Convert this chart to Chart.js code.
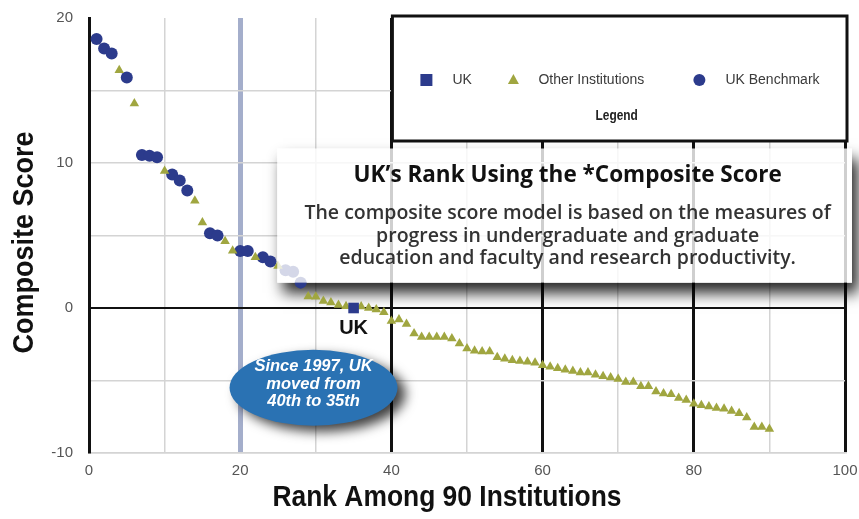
<!DOCTYPE html>
<html>
<head>
<meta charset="utf-8">
<script src="https://cdn.jsdelivr.net/npm/chart.js@4.4.0/dist/chart.umd.min.js"></script>
<style>
  html, body { margin: 0; padding: 0; background: #fff; }
</style>
</head>
<body>
<canvas id="rank-chart" width="859" height="519"></canvas>
<script>
// values
const ukRanks = [35];
const ukScores = [0.0];

const benchmarkRanks = [1, 2, 3, 5, 7, 8, 9, 11, 12, 13, 16, 17, 20, 21, 23, 24, 26, 27, 28];
const benchmarkScores = [18.55, 17.9, 17.55, 15.9, 10.55, 10.5, 10.4, 9.2, 8.8, 8.1, 5.15, 5.0, 3.93, 3.93, 3.5, 3.2, 2.6, 2.5, 1.75];

const otherRanks = [4, 6, 10, 14, 15, 18, 19, 22, 25, 29, 30, 31, 32, 33, 34,
  36, 37, 38, 39, 40, 41, 42, 43, 44, 45, 46, 47, 48, 49, 50, 51, 52, 53, 54, 55,
  56, 57, 58, 59, 60, 61, 62, 63, 64, 65, 66, 67, 68, 69, 70, 71, 72, 73, 74, 75,
  76, 77, 78, 79, 80, 81, 82, 83, 84, 85, 86, 87, 88, 89, 90];
const otherScores = [16.4, 14.1, 9.45, 7.4, 5.9, 4.6, 3.95, 3.5, 2.9, 0.8, 0.78, 0.48, 0.38, 0.2, 0.12,
  0.1, 0.0, -0.1, -0.3, -0.9, -0.8, -1.1, -1.75, -2.0, -2.0, -2.0, -2.0, -2.1, -2.45, -2.8, -2.95, -3.0, -3.0, -3.4, -3.5,
  -3.6, -3.65, -3.7, -3.77, -3.95, -4.05, -4.15, -4.25, -4.35, -4.45, -4.45, -4.6, -4.7, -4.8, -4.9, -5.1, -5.1, -5.4, -5.4, -5.75,
  -5.9, -5.95, -6.2, -6.35, -6.6, -6.7, -6.8, -6.9, -6.95, -7.1, -7.25, -7.55, -8.2, -8.2, -8.35];

const xTickLabels = [0, 20, 40, 60, 80, 100];
const yTickLabels = [-10, 0, 10, 20];

const xTitle = 'Rank Among 90 Institutions';
const yTitle = 'Composite Score';
const calloutTitle = 'UK\u2019s Rank Using the *Composite Score';
const calloutLines = [
  'The composite score model is based on the measures of',
  'progress in undergraduate and graduate',
  'education and faculty and research productivity.'
];
const bubbleLines = ['Since 1997, UK', 'moved from', '40th to 35th'];

const NAVY = '#2c3b8c';
const OLIVE = '#a0a640';
const BUBBLE = '#2a72b3';
const NARROW_BOLD = 'bold 30px "Liberation Sans", sans-serif';

function toPoints(ranks, scores) {
  return ranks.map((r, i) => ({ x: r, y: scores[i] }));
}

function calloutRect(chart) {
  const xs = chart.scales.x, ys = chart.scales.y;
  const left = xs.getPixelForValue(24.9);
  const top = ys.getPixelForValue(11);
  const bottom = ys.getPixelForValue(1.75);
  return { x: left, y: top, w: chart.width - 7 - left, h: bottom - top };
}

function marker(ctx, style, x, y, color) {
  ctx.fillStyle = color;
  ctx.beginPath();
  if (style === 'rect') {
    ctx.rect(x - 6, y - 6, 12, 12);
  } else if (style === 'triangle') {
    ctx.moveTo(x, y - 6);
    ctx.lineTo(x + 5.5, y + 4);
    ctx.lineTo(x - 5.5, y + 4);
    ctx.closePath();
  } else {
    ctx.arc(x, y, 6, 0, Math.PI * 2);
  }
  ctx.fill();
}

// condensed text: squeeze the glyphs along the baseline
function narrowText(ctx, text, x, y, squeeze, rotate) {
  ctx.save();
  ctx.translate(x, y);
  if (rotate) ctx.rotate(-Math.PI / 2);
  ctx.scale(squeeze, 1);
  ctx.fillText(text, 0, 0);
  ctx.restore();
}

const overlayPlugin = {
  id: 'overlay',
  beforeDatasetsDraw(chart) {
    // drop shadow of the callout panel, kept outside the panel itself
    const ctx = chart.ctx;
    const box = calloutRect(chart);
    ctx.save();
    ctx.beginPath();
    ctx.rect(0, 0, chart.width, chart.height);
    ctx.rect(box.x, box.y, box.w, box.h);
    ctx.clip('evenodd');
    ctx.shadowColor = 'rgba(0,0,0,0.85)';
    ctx.shadowBlur = 14;
    ctx.shadowOffsetX = 3000 + 6;
    ctx.shadowOffsetY = 10;
    ctx.fillStyle = '#000';
    ctx.fillRect(box.x - 3000, box.y, box.w, box.h);
    ctx.restore();
  },
  afterDatasetsDraw(chart) {
    const ctx = chart.ctx;
    const xs = chart.scales.x, ys = chart.scales.y;
    const area = chart.chartArea;

    // callout panel
    const box = calloutRect(chart);
    ctx.save();
    ctx.fillStyle = 'rgba(255,255,255,0.8)';
    ctx.fillRect(box.x, box.y, box.w, box.h);
    const cx = box.x + box.w / 2;
    ctx.textAlign = 'center';
    ctx.textBaseline = 'middle';
    ctx.fillStyle = '#111';
    ctx.font = 'bold 22.5px "Open Sans", sans-serif';
    ctx.fillText(calloutTitle, cx + 3, box.y + 27);
    ctx.fillStyle = '#333';
    ctx.font = '600 19.5px "Open Sans", sans-serif';
    calloutLines.forEach((t, i) => ctx.fillText(t, cx + 3, box.y + 65 + i * 22.5));
    ctx.restore();

    // label under the UK point
    ctx.save();
    ctx.fillStyle = '#111';
    ctx.font = 'bold 20px "Liberation Sans", sans-serif';
    ctx.textAlign = 'center';
    ctx.textBaseline = 'middle';
    ctx.fillText('UK', xs.getPixelForValue(ukRanks[0]), ys.getPixelForValue(ukScores[0]) + 20);
    ctx.restore();

    // blue bubble
    const bx = xs.getPixelForValue(29.7), by = ys.getPixelForValue(-5.5);
    ctx.save();
    ctx.shadowColor = 'rgba(0,0,0,0.75)';
    ctx.shadowBlur = 12;
    ctx.shadowOffsetX = 8;
    ctx.shadowOffsetY = 6;
    ctx.fillStyle = BUBBLE;
    ctx.beginPath();
    ctx.ellipse(bx, by, 84, 38, 0, 0, Math.PI * 2);
    ctx.fill();
    ctx.restore();
    ctx.save();
    ctx.fillStyle = '#fff';
    ctx.font = 'italic bold 16.5px "Liberation Sans", sans-serif';
    ctx.textAlign = 'center';
    ctx.textBaseline = 'middle';
    bubbleLines.forEach((t, i) => ctx.fillText(t, bx, by - 21 + i * 17.5));
    ctx.restore();

    // legend panel
    const lx = xs.getPixelForValue(40) + 1, rx = xs.getPixelForValue(100) + 2;
    const ty = area.top - 2, byy = area.top + 123;
    ctx.save();
    ctx.fillStyle = '#fff';
    ctx.fillRect(lx, ty, rx - lx, byy - ty);
    ctx.strokeStyle = '#111';
    ctx.lineWidth = 3;
    ctx.strokeRect(lx, ty, rx - lx, byy - ty);
    const rowY = ty + 64;
    ctx.font = '14px "Liberation Sans", sans-serif';
    ctx.textBaseline = 'middle';
    ctx.textAlign = 'left';
    const items = [
      { ds: chart.data.datasets[0], mx: 34, tx: 60 },
      { ds: chart.data.datasets[1], mx: 121, tx: 146 },
      { ds: chart.data.datasets[2], mx: 307, tx: 333 }
    ];
    items.forEach(it => {
      marker(ctx, it.ds.pointStyle, lx + it.mx, rowY, it.ds.backgroundColor);
      ctx.fillStyle = '#3a3a3a';
      ctx.fillText(it.ds.label, lx + it.tx, rowY);
    });
    ctx.font = 'bold 14px "Liberation Sans", sans-serif';
    ctx.fillStyle = '#222';
    ctx.textAlign = 'center';
    narrowText(ctx, 'Legend', (lx + rx) / 2 - 3, ty + 100, 0.85, false);
    ctx.restore();
  },
  afterDraw(chart) {
    // axis titles in a condensed bold face
    const ctx = chart.ctx;
    const area = chart.chartArea;
    ctx.save();
    ctx.fillStyle = '#111';
    ctx.font = NARROW_BOLD;
    ctx.textAlign = 'center';
    ctx.textBaseline = 'middle';
    narrowText(ctx, xTitle, (area.left + area.right) / 2 - 20, chart.height - 21, 0.88, false);
    narrowText(ctx, yTitle, 25, (area.top + area.bottom) / 2 + 7, 0.9, true);
    ctx.restore();
  }
};

const ctx = document.getElementById('rank-chart').getContext('2d');
new Chart(ctx, {
  type: 'scatter',
  data: {
    datasets: [
      {
        label: 'UK',
        data: toPoints(ukRanks, ukScores),
        pointStyle: 'rect',
        pointRadius: 7.5,
        backgroundColor: NAVY,
        borderColor: NAVY,
        borderWidth: 0
      },
      {
        label: 'Other Institutions',
        data: toPoints(otherRanks, otherScores),
        pointStyle: 'triangle',
        pointRadius: 5.5,
        backgroundColor: OLIVE,
        borderColor: OLIVE,
        borderWidth: 0
      },
      {
        label: 'UK Benchmark',
        data: toPoints(benchmarkRanks, benchmarkScores),
        pointStyle: 'circle',
        pointRadius: 6,
        backgroundColor: NAVY,
        borderColor: NAVY,
        borderWidth: 0
      }
    ]
  },
  options: {
    responsive: false,
    animation: false,
    layout: { padding: { top: 18, right: 14, left: 0, bottom: 0 } },
    plugins: {
      legend: { display: false },
      tooltip: { enabled: false }
    },
    scales: {
      x: {
        type: 'linear',
        min: 0,
        max: 100,
        afterFit: (scale) => {
          scale.height = 66;
          scale.paddingLeft = 0;
          scale.paddingRight = 0;
        },
        border: { display: true, color: '#d4d4d4', width: 1.5 },
        grid: {
          drawTicks: false,
          color: (c) => {
            const v = c.tick.value;
            if (v === 20) return '#a4aecb';
            if (v % 20 === 0) return '#111';
            return '#d4d4d4';
          },
          lineWidth: (c) => {
            const v = c.tick.value;
            if (v === 20) return 5;
            if (v % 20 === 0) return 3;
            return 1.5;
          }
        },
        ticks: {
          stepSize: 10,
          autoSkip: false,
          maxRotation: 0,
          padding: 9,
          color: '#555',
          font: { family: '"Liberation Sans", sans-serif', size: 15 },
          callback: (v) => xTickLabels.includes(v) ? String(v) : ''
        },
        title: { display: false, text: xTitle }
      },
      y: {
        min: -10,
        max: 20,
        afterFit: (scale) => {
          scale.width = 89;
          scale.paddingTop = 0;
          scale.paddingBottom = 0;
        },
        border: { display: true, color: '#111', width: 3 },
        grid: {
          drawTicks: false,
          color: (c) => {
            const v = c.tick.value;
            if (v === 0) return '#111';
            if (v === 20) return 'rgba(0,0,0,0)';
            return '#d4d4d4';
          },
          lineWidth: (c) => c.tick.value === 0 ? 2 : 1.5
        },
        ticks: {
          stepSize: 5,
          padding: 16,
          color: '#555',
          font: { family: '"Liberation Sans", sans-serif', size: 15 },
          callback: (v) => yTickLabels.includes(v) ? String(v) : ''
        },
        title: { display: false, text: yTitle }
      }
    }
  },
  plugins: [overlayPlugin]
});
</script>
</body>
</html>
